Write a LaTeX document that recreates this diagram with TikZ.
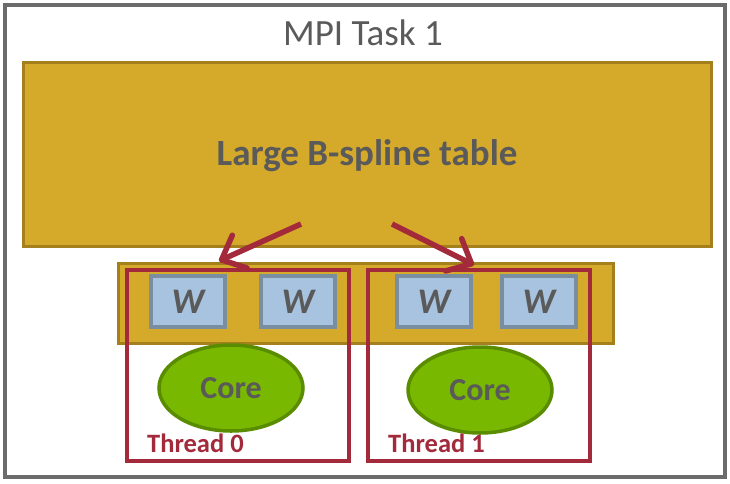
\documentclass[tikz,border=0pt]{standalone}
\usepackage{fontspec}
\setmainfont{Carlito}
\usetikzlibrary{arrows.meta,shapes.geometric}
\definecolor{gold}{HTML}{D5A92A}
\definecolor{golddark}{HTML}{A3801C}
\definecolor{wfill}{HTML}{A7C3DF}
\definecolor{wdraw}{HTML}{7A8EA2}
\definecolor{corefill}{HTML}{78B800}
\definecolor{coredraw}{HTML}{5A8C00}
\definecolor{thr}{HTML}{A32A3B}
\definecolor{frame}{HTML}{6B6B6B}
\definecolor{txt}{HTML}{5A5A5A}
\begin{document}
\begin{tikzpicture}[x=1pt,y=-1pt,
  table/.style={draw=golddark,fill=gold,line width=3pt},
  wbox/.style={draw=wdraw,fill=wfill,line width=3.5pt,minimum width=74pt,minimum height=51pt,inner sep=0pt,font=\fontsize{36}{38}\selectfont\bfseries\itshape,text=txt},
  core/.style={ellipse,draw=coredraw,fill=corefill,line width=3.5pt,minimum width=144pt,minimum height=86pt,inner sep=0pt,font=\fontsize{32}{36}\selectfont\bfseries,text=txt},
  thread/.style={draw=thr,line width=3.5pt},
  thlabel/.style={anchor=west,inner sep=0pt,text=thr,font=\fontsize{26.5}{29}\selectfont\bfseries},
  flow/.style={draw=thr,line width=5.5pt,-{Straight Barb[length=20pt,width=36pt,line width=5.5pt,round]}}]
\useasboundingbox (0,0) rectangle (730,483);
\fill[white] (0,0) rectangle (730,483);
\draw[frame,line width=4pt] (5,5) rectangle (725,477);
\node[text=txt,font=\fontsize{37}{40}\selectfont] (title) at (363,33) {MPI Task 1};
\draw[table] (23,62) rectangle (711,246);
\node[text=txt,font=\fontsize{37}{40}\selectfont\bfseries] (big) at (367,156) {Large B-spline table};
\draw[table] (118,263) rectangle (613,343);
\node[wbox] (w1) at (188,301.5) {W};
\node[wbox] (w2) at (298,301.5) {W};
\node[wbox] (w3) at (434,301.5) {W};
\node[wbox] (w4) at (539,301.5) {W};
\draw[thread] (127,270) rectangle (349,461);
\draw[thread] (368,270) rectangle (590,461);
\node[core] (c0) at (231,388) {Core};
\node[core] (c1) at (480,390) {Core};
\node[thlabel] (t0) at (147,443) {Thread 0};
\node[thlabel] (t1) at (388,443) {Thread 1};
\coordinate (a0s) at (301,224);
\coordinate (a0e) at (219,261);
\coordinate (a1s) at (392,224);
\coordinate (a1e) at (474,265);
\draw[flow] (a0s) -- (a0e);
\draw[flow] (a1s) -- (a1e);
\end{tikzpicture}
\end{document}
